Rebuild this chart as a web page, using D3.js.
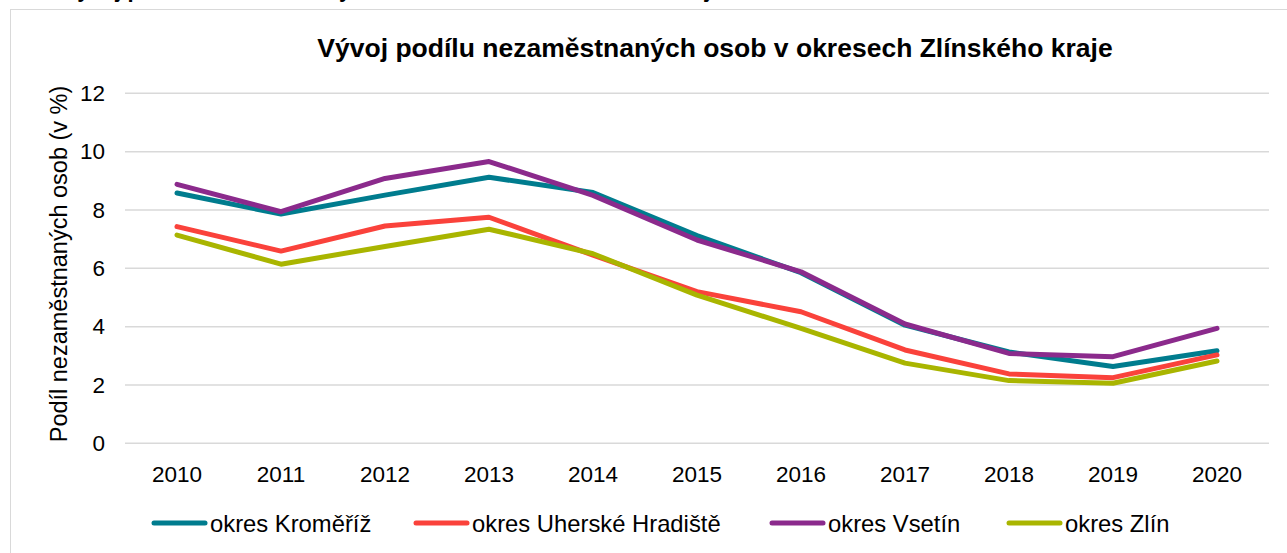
<!DOCTYPE html>
<html>
<head>
<meta charset="utf-8">
<script src="https://cdn.jsdelivr.net/npm/d3@7"></script>
<style>
  body { margin: 0; background: #fff; }
  svg { display: block; font-family: "Liberation Sans", Arial, sans-serif; }
</style>
</head>
<body>
<div id="chart"></div>
<script>
// data
var years = ["2010", "2011", "2012", "2013", "2014", "2015", "2016", "2017", "2018", "2019", "2020"];
var kromeriz = [8.58, 7.86, 8.51, 9.12, 8.6, 7.12, 5.85, 4.05, 3.13, 2.63, 3.17];
var uhHradiste = [7.43, 6.59, 7.45, 7.75, 6.45, 5.2, 4.51, 3.2, 2.38, 2.25, 3.03];
var vsetin = [8.88, 7.94, 9.08, 9.66, 8.5, 6.97, 5.88, 4.09, 3.08, 2.97, 3.94];
var zlin = [7.14, 6.14, 6.75, 7.34, 6.5, 5.08, 3.94, 2.75, 2.15, 2.06, 2.82];
var yTicks = [0, 2, 4, 6, 8, 10, 12];

var series = [
    { name: "okres Kroměříž", values: kromeriz, color: "#007C8E" },
    { name: "okres Uherské Hradiště", values: uhHradiste, color: "#FA423B" },
    { name: "okres Vsetín", values: vsetin, color: "#8B2A8C" },
    { name: "okres Zlín", values: zlin, color: "#A9B500" }
];
// drawing order: later ones on top
var drawOrder = [0, 1, 3, 2];

var W = 1287, H = 553;
var FS = "22.5px";

var svg = d3.select("#chart").append("svg")
    .attr("width", W)
    .attr("height", H);

// outer frame (runs off the right and bottom edge)
svg.append("rect")
    .attr("x", 10.5).attr("y", 9.5)
    .attr("width", W + 20).attr("height", H + 20)
    .attr("fill", "none")
    .attr("stroke", "#D9D9D9")
    .attr("stroke-width", 1);

// caption line above the frame, mostly cut off in the picture
svg.append("text")
    .attr("x", 4).attr("y", -3)
    .attr("font-size", "22px")
    .attr("font-weight", "bold")
    .text("Graf: Vývoj podílu nezaměstnaných osob v okresech Zlínského kraje");

var x = d3.scaleBand().domain(years).range([125, 1269]);
var y = d3.scaleLinear().domain([0, 12]).range([443.3, 93.3]);

// gridlines
svg.append("g")
    .selectAll("line")
    .data(yTicks)
    .join("line")
    .attr("x1", 125).attr("x2", 1269)
    .attr("y1", function(d) { return y(d); })
    .attr("y2", function(d) { return y(d); })
    .attr("stroke", "#D9D9D9")
    .attr("stroke-width", 1.5);

// y axis labels
var yAxis = d3.axisLeft(y).tickValues(yTicks).tickSize(0).tickPadding(0);
var gy = svg.append("g")
    .attr("transform", "translate(105,0)")
    .call(yAxis);
gy.select(".domain").remove();
gy.selectAll("text")
    .attr("font-family", "Liberation Sans, Arial, sans-serif")
    .attr("font-size", FS)
    .attr("fill", "#000");

// x axis labels
var xAxis = d3.axisBottom(x).tickSize(0).tickPadding(0);
var gx = svg.append("g")
    .call(xAxis);
gx.select(".domain").remove();
gx.selectAll("text")
    .attr("y", 481.5)
    .attr("dy", null)
    .attr("font-family", "Liberation Sans, Arial, sans-serif")
    .attr("font-size", FS)
    .attr("fill", "#000");

// y axis title
svg.append("text")
    .attr("transform", "translate(67,264) rotate(-90)")
    .attr("text-anchor", "middle")
    .attr("font-size", "23.5px")
    .attr("fill", "#000")
    .text("Podíl nezaměstnaných osob (v %)");

// chart title
svg.append("text")
    .attr("x", 715).attr("y", 57)
    .attr("text-anchor", "middle")
    .attr("font-size", "26.5px")
    .attr("font-weight", "bold")
    .attr("fill", "#000")
    .text("Vývoj podílu nezaměstnaných osob v okresech Zlínského kraje");

// lines
var lineFunc = d3.line()
    .x(function(d, i) { return x(years[i]) + x.bandwidth() / 2; })
    .y(function(d) { return y(d); })
    .curve(d3.curveLinear);

drawOrder.forEach(function(k) {
    var s = series[k];
    svg.append("path")
        .attr("d", lineFunc(s.values))
        .attr("fill", "none")
        .attr("stroke", s.color)
        .attr("stroke-width", 5)
        .attr("stroke-linejoin", "round")
        .attr("stroke-linecap", "round");
});

// legend
var legendX = [152, 414, 770, 1007];
series.forEach(function(s, i) {
    var g = svg.append("g").attr("transform", "translate(" + legendX[i] + ",523)");
    g.append("line")
        .attr("x1", 2).attr("x2", 53)
        .attr("y1", 0).attr("y2", 0)
        .attr("stroke", s.color)
        .attr("stroke-width", 5)
        .attr("stroke-linecap", "round");
    g.append("text")
        .attr("x", 58).attr("y", 8.5)
        .attr("font-size", "23.8px")
        .attr("fill", "#000")
        .text(s.name);
});
</script>
</body>
</html>
